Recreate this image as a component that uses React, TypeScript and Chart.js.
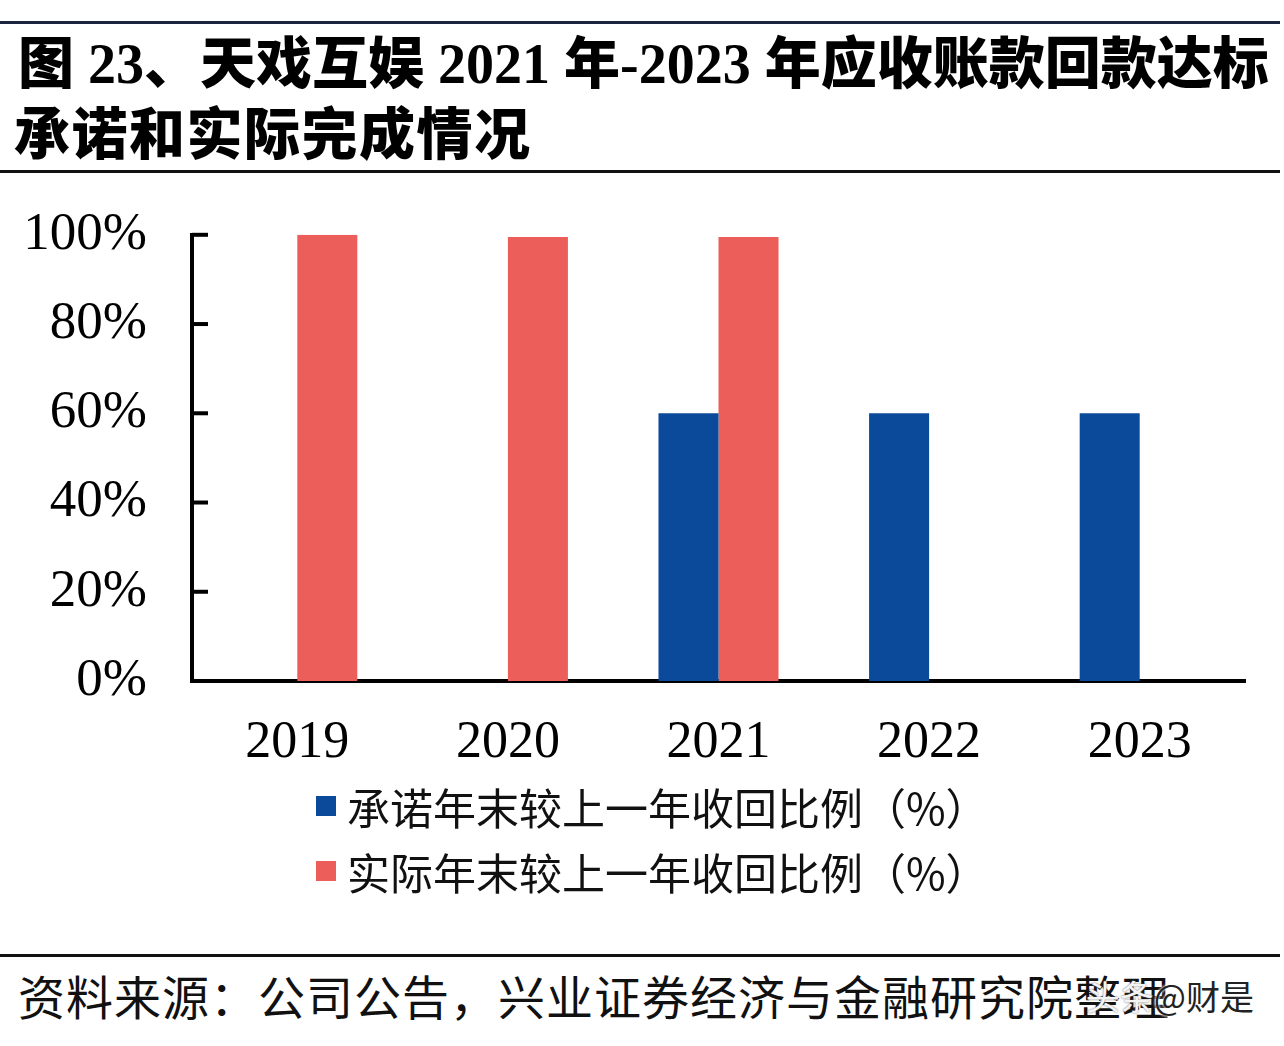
import React, { useEffect, useRef } from "react";
import { Chart, registerables } from "chart.js";

Chart.register(...registerables);

const categories = ["2019", "2020", "2021", "2022", "2023"];
const promisedValues: (number | null)[] = [null, null, 60, 60, 60];
const actualValues: (number | null)[] = [100, 99.5, 99.5, null, null];
const seriesNames = ["承诺年末较上一年收回比例（%）", "实际年末较上一年收回比例（%）"];
const seriesColors = ["#0B4A9B", "#EB5E5A"];
const yTickValues = [0, 20, 40, 60, 80, 100];
const titleLines = ["图 23、天戏互娱 2021 年-2023 年应收账款回款达标", "承诺和实际完成情况"];
const sourceText = "资料来源：公司公告，兴业证券经济与金融研究院整理";

const CANVAS_TOP = 158;
const CANVAS_W = 1284;
const CANVAS_H = 622;

const innerTicks = {
  id: "innerTicks",
  afterDraw(chart: any) {
    const y = chart.scales.y;
    const ctx = chart.ctx;
    ctx.save();
    ctx.strokeStyle = "#000";
    ctx.lineWidth = 4;
    yTickValues.forEach((v) => {
      const py = y.getPixelForValue(v);
      ctx.beginPath();
      ctx.moveTo(chart.chartArea.left, py);
      ctx.lineTo(chart.chartArea.left + 16, py);
      ctx.stroke();
    });
    ctx.restore();
  },
};

export default function App() {
  const ref = useRef<HTMLCanvasElement | null>(null);

  useEffect(() => {
    if (!ref.current) return;
    const chart = new Chart(ref.current, {
      type: "bar",
      data: {
        labels: categories,
        datasets: [
          {
            label: seriesNames[0],
            data: promisedValues,
            backgroundColor: seriesColors[0],
            barPercentage: 1,
            categoryPercentage: 0.57,
          },
          {
            label: seriesNames[1],
            data: actualValues,
            backgroundColor: seriesColors[1],
            barPercentage: 1,
            categoryPercentage: 0.57,
          },
        ],
      },
      options: {
        responsive: false,
        animation: false,
        layout: { padding: { top: 10, right: 39, left: 0, bottom: 0 } },
        plugins: { legend: { display: false }, tooltip: { enabled: false } },
        scales: {
          x: {
            grid: { display: false, drawTicks: false },
            border: { display: true, color: "#000", width: 4 },
            ticks: {
              color: "#000",
              padding: 31,
              font: { family: "'Liberation Serif', serif", size: 52 },
            },
            afterFit(scale: any) {
              scale.height = 99;
            },
          },
          y: {
            min: 0,
            max: 100,
            grid: { display: false, drawTicks: false },
            border: { display: true, color: "#000", width: 4 },
            ticks: {
              stepSize: 20,
              color: "#000",
              padding: 45,
              font: { family: "'Liberation Serif', serif", size: 53 },
              callback: (v: any) => v + "%",
            },
            afterFit(scale: any) {
              scale.width = 192;
            },
          },
        },
      },
      plugins: [innerTicks],
    });
    return () => chart.destroy();
  }, []);

  const cjk = "'Noto Sans CJK SC', sans-serif";

  return (
    <div
      style={{
        position: "absolute",
        left: 0,
        top: 0,
        width: 1284,
        height: 1046,
        background: "#fff",
        overflow: "hidden",
      }}
    >
      <div style={{ position: "absolute", left: 0, top: CANVAS_TOP, width: CANVAS_W, height: CANVAS_H }}>
        <canvas ref={ref} width={CANVAS_W} height={CANVAS_H} style={{ display: "block" }} />
      </div>

      <div style={{ position: "absolute", left: 0, top: 21, width: 1280, height: 3, background: "#1c2540" }} />
      {titleLines.map((t, i) => (
        <div
          key={i}
          style={{
            position: "absolute",
            left: i === 0 ? 18 : 14,
            top: i === 0 ? 36 : 107,
            fontFamily: "'Liberation Serif', 'Noto Sans CJK SC', serif",
            fontWeight: 900,
            fontSize: 56,
            letterSpacing: i === 0 ? "0px" : "1.5px",
            lineHeight: "56px",
            whiteSpace: "nowrap",
            color: "#000",
          }}
        >
          {t}
        </div>
      ))}
      <div style={{ position: "absolute", left: 0, top: 170, width: 1280, height: 3, background: "#111" }} />

      {seriesNames.map((name, i) => (
        <div
          key={name}
          style={{
            position: "absolute",
            left: 316,
            top: i === 0 ? 782 : 847,
            height: 48,
            display: "flex",
            alignItems: "center",
            whiteSpace: "nowrap",
          }}
        >
          <div style={{ width: 20, height: 20, background: seriesColors[i], marginRight: 11 }} />
          <span style={{ fontFamily: cjk, fontSize: 43, lineHeight: "48px", color: "#111" }}>{name}</span>
        </div>
      ))}

      <div style={{ position: "absolute", left: 0, top: 954, width: 1280, height: 3, background: "#111" }} />
      <div
        style={{
          position: "absolute",
          left: 18,
          top: 970,
          fontFamily: cjk,
          fontSize: 47,
          letterSpacing: "1px",
          lineHeight: "50px",
          whiteSpace: "nowrap",
          color: "#111",
        }}
      >
        {sourceText}
      </div>
      <div
        style={{
          position: "absolute",
          right: 30,
          top: 976,
          fontFamily: cjk,
          fontSize: 34,
          lineHeight: "40px",
          whiteSpace: "nowrap",
          color: "#222",
          textShadow: "0 0 3px #fff, 0 0 3px #fff",
        }}
      >
        <span style={{ color: "#f4f4f4", textShadow: "0 0 2px #666" }}>头条</span>@财是
      </div>
    </div>
  );
}
